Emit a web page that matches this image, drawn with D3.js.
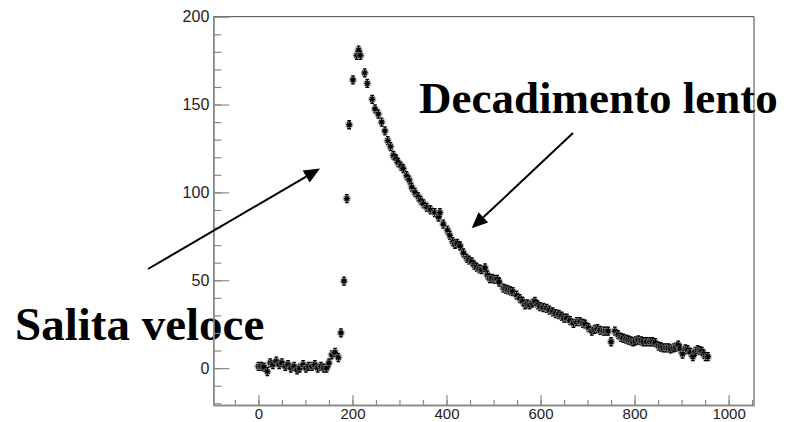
<!DOCTYPE html>
<html>
<head>
<meta charset="utf-8">
<script src="https://cdn.jsdelivr.net/npm/d3@7"></script>
<style>
  body { margin: 0; background: #fff; }
  svg { display: block; }
</style>
</head>
<body>
<svg id="chart" width="804" height="422"></svg>
<script>
// time (x) and counts (y)
var times = [0, 6, 12, 19, 25, 31, 38, 44, 50, 57, 63, 69, 76, 82, 88, 95, 101, 107, 114, 120,
    126, 133, 139, 145, 150, 156, 163, 170, 175.5, 182, 188, 193, 201, 209, 213, 217, 226, 231.5, 242, 248,
    255, 262, 269, 275, 281, 287, 293, 297, 303, 308, 315, 321, 326, 333, 340, 345, 351, 358, 366, 375,
    383, 386, 393, 402, 407, 413, 418, 423, 429, 436, 443, 448, 454, 459, 464, 470, 475, 482, 487, 492,
    497, 503, 508, 512, 521, 526, 531, 536, 541, 549, 556, 562, 567, 572, 577, 583, 588, 594, 599, 606,
    613, 619, 626, 632, 639, 645, 650, 656, 663, 670, 677, 684, 690, 695, 702, 709, 715, 721, 727, 734,
    739, 744, 750, 758, 765, 771, 776, 782, 787, 792, 797, 802, 808, 814, 819, 826, 833, 838, 844, 851,
    856, 861, 867, 872, 877, 883, 888, 893, 897, 902, 908, 913, 919, 924, 929, 934, 939, 943, 947, 951, 956];
var counts = [1, 1, 0.5, -2, 3, 2, 4, 2, 3, 1, 2, 0, 1, -1, 0, 2, 0, 1, 1, 2,
    0, 1, 0, 0, 3, 7.5, 9, 6, 20, 49.5, 96.5, 138.5, 164, 178, 181, 178, 168, 162, 153, 147.5,
    144.5, 140, 135, 129.5, 126, 121, 119, 117, 115, 113.5, 109.5, 107, 103, 100, 97.5, 95.5, 93.5, 91.5, 90, 88.5,
    86, 88.5, 82, 78.5, 75.5, 72, 70.5, 71, 69.5, 65.5, 62.5, 61.5, 60.5, 58.5, 57.5, 56.5, 56, 57, 53, 51,
    51, 50.5, 50.5, 49, 45.5, 45, 44.5, 44, 43.5, 41.5, 39.5, 38, 36, 36.5, 36, 37, 38, 36, 35, 34.5,
    34, 33, 32, 31, 30.5, 29.5, 28.5, 28.5, 27, 25.5, 26.5, 26.5, 25.5, 25, 23, 21, 22, 22.5, 21.5, 21,
    21, 21, 15, 21, 19, 17.5, 17, 16.5, 16, 15.5, 15, 15.5, 16, 15.5, 15, 15, 15, 15, 14.5, 12.5,
    12, 11.5, 11.5, 11.5, 11, 11.5, 12, 13, 11, 8, 11, 10.5, 9, 6.5, 9.5, 10.5, 10, 9.5, 8, 6.5, 6.5];

var xMajor = [0, 200, 400, 600, 800, 1000];
var yMajor = [0, 50, 100, 150, 200];

var svg = d3.select("#chart");

var x = d3.scaleLinear().domain([-96, 1054]).range([213.3, 754]);
var y = d3.scaleLinear().domain([-21, 200]).range([405, 16.7]);

// annotation text (drawn under the axes)
svg.append("text")
    .attr("x", 15).attr("y", 340)
    .style("font-family", "'Liberation Serif', 'Times New Roman', serif")
    .style("font-weight", "bold")
    .style("font-size", "47px")
    .text("Salita veloce");

svg.append("text")
    .attr("x", 419).attr("y", 113)
    .style("font-family", "'Liberation Serif', 'Times New Roman', serif")
    .style("font-weight", "bold")
    .style("font-size", "45px")
    .text("Decadimento lento");

// frame top / right
svg.append("line")
    .attr("x1", x.range()[0]).attr("x2", x.range()[1])
    .attr("y1", y.range()[1]).attr("y2", y.range()[1])
    .style("stroke", "#444").style("stroke-width", 1);
svg.append("line")
    .attr("x1", x.range()[1]).attr("x2", x.range()[1])
    .attr("y1", y.range()[1]).attr("y2", y.range()[0])
    .style("stroke", "#444").style("stroke-width", 1);

// x axis: ticks point up into the frame
var xMinor = svg.append("g")
    .attr("transform", "translate(0," + y.range()[0] + ")")
    .call(d3.axisBottom(x).tickValues(d3.range(-50, 1051, 50)).tickSize(-5).tickSizeOuter(0).tickFormat(""));
var xAxis = svg.append("g")
    .attr("transform", "translate(0," + y.range()[0] + ")")
    .call(d3.axisBottom(x).tickValues(xMajor).tickSize(-10).tickSizeOuter(0).tickPadding(3).tickFormat(d3.format("d")));

// y axis: ticks point right into the frame
var yMinor = svg.append("g")
    .attr("transform", "translate(" + x.range()[0] + ",0)")
    .call(d3.axisLeft(y).tickValues(d3.range(-20, 191, 10)).tickSize(-8).tickSizeOuter(0).tickFormat(""));
var yAxis = svg.append("g")
    .attr("transform", "translate(" + x.range()[0] + ",0)")
    .call(d3.axisLeft(y).tickValues(yMajor).tickSize(-16).tickSizeOuter(0).tickPadding(4));

svg.selectAll(".domain").style("stroke", "#888").style("stroke-width", 1.5);
svg.selectAll(".tick line").style("stroke", "#888").style("stroke-width", 1.2);
svg.selectAll(".tick text")
    .style("font-family", "'Liberation Sans', Arial, sans-serif")
    .style("font-size", "16px")
    .style("fill", "#222");
xAxis.selectAll(".tick text").style("font-size", "15px").attr("dy", "0.7em");

// data points: ROOT style asterisk with small error bars
var pts = svg.append("g");
var node = pts.selectAll("g.pt")
    .data(times)
    .enter().append("g")
    .attr("class", "pt")
    .attr("transform", function(d, i) { return "translate(" + x(d) + "," + y(counts[i]) + ")"; });

node.append("circle")
    .attr("r", 4.2)
    .style("fill", "#999")
    .style("opacity", 0.55);
node.append("path")
    .attr("d", "M-3,0H3M0,-4V4M-2.2,-2.2L2.2,2.2M-2.2,2.2L2.2,-2.2M-1.8,-4H1.8M-1.8,4H1.8")
    .style("fill", "none")
    .style("stroke", "#000")
    .style("stroke-width", 1.3);

// arrows
function arrow(x1, y1, x2, y2) {
    var a = Math.atan2(y2 - y1, x2 - x1);
    var len = 16, hw = 7;
    var bx = x2 - len * Math.cos(a), by = y2 - len * Math.sin(a);
    svg.append("line")
        .attr("x1", x1).attr("y1", y1).attr("x2", bx).attr("y2", by)
        .style("stroke", "#000").style("stroke-width", 2);
    var p = [[x2, y2],
        [bx + hw * Math.sin(a), by - hw * Math.cos(a)],
        [bx - hw * Math.sin(a), by + hw * Math.cos(a)]];
    svg.append("path")
        .attr("d", d3.line()(p) + "Z")
        .style("fill", "#000");
}
arrow(148, 269, 320, 168.5);
arrow(573, 133, 471.7, 228.3);
</script>
</body>
</html>
